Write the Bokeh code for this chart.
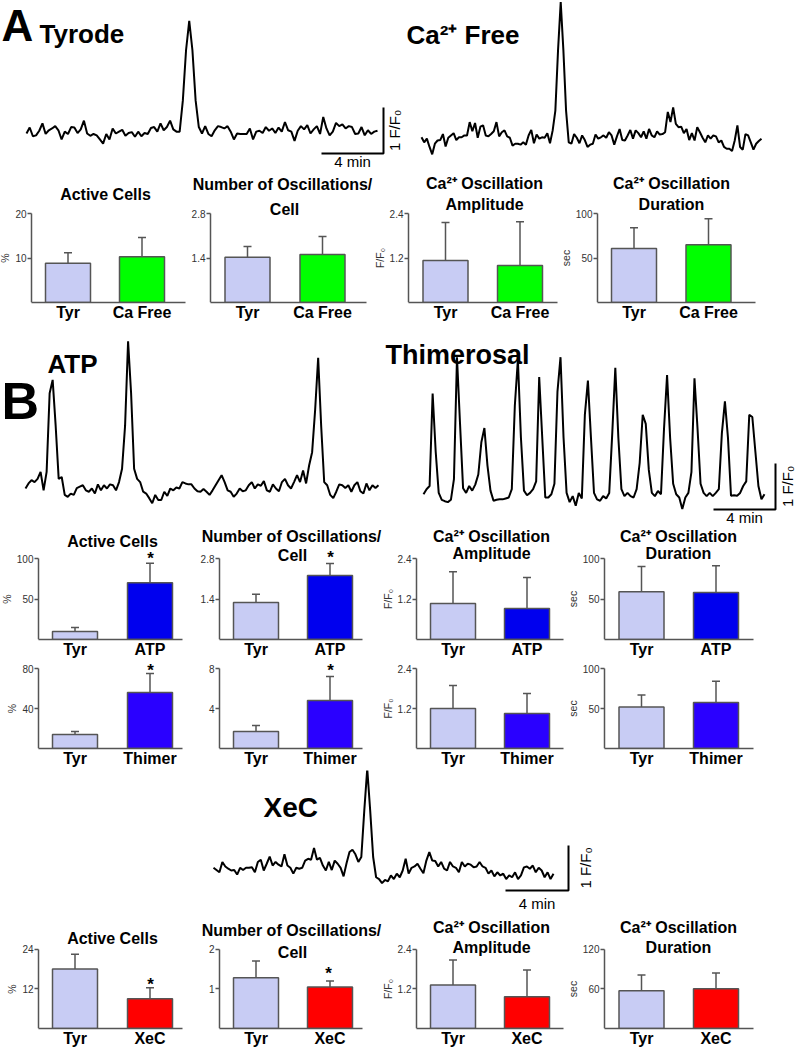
import numpy as np
from math import pi
from bokeh.plotting import figure
from bokeh.layouts import row, column
from bokeh.models import Range1d, Label, FixedTicker
from bokeh.embed import file_html
from bokeh.resources import INLINE

FONT = "Liberation Sans"
EDGE = "#555555"

# ---------------- Ca2+ traces (F/F0, uniformly sampled) ----------------
tyrode_trace = [1.00, 1.13, 0.94, 0.96, 1.06, 1.22, 0.99, 1.07, 1.11, 1.16,
                1.07, 0.87, 1.04, 0.99, 1.14, 1.13, 1.01, 1.09, 1.28, 1.00,
                0.95, 0.99, 0.96, 0.87, 0.78, 0.99, 0.87, 1.11, 1.00, 1.04,
                1.08, 0.95,
                1.01, 1.03, 0.93, 1.04, 0.94, 1.01, 0.99, 1.12, 1.14, 1.04,
                1.22, 1.07, 1.14, 1.28, 1.09, 1.04, 1.04, 1.72, 2.81, 3.45,
                2.81, 1.72, 1.14, 1.00, 1.16, 0.99, 0.94, 1.07, 1.16, 1.14,
                1.11, 1.16, 1.04, 0.87, 1.00, 0.99, 0.99, 0.99, 1.11, 0.87,
                1.04, 1.06, 1.01, 1.14, 1.06, 1.11, 1.01, 1.13, 1.04, 1.25,
                1.07, 1.04, 0.84, 1.06, 1.16, 1.09, 1.18, 1.00,
                1.09, 1.16, 0.99, 1.36, 1.11, 0.96, 1.04, 1.23, 1.16, 1.20,
                1.11, 1.16, 1.14, 0.99, 1.00, 1.14, 0.96, 1.07, 0.99, 1.04, 1.06]

cafree_trace = [1.07, 0.96, 1.04, 0.86, 0.70, 0.93, 1.00, 1.01, 1.14, 0.87,
                1.06, 1.11, 1.16, 1.01, 1.07, 1.07, 1.11, 1.11, 1.40, 1.20,
                1.38, 1.06, 1.30, 1.33, 1.11, 1.09, 1.14, 1.20, 1.40, 1.09,
                1.18, 1.22, 1.09, 1.06, 0.89, 0.93, 0.93, 0.91, 0.96, 0.91,
                1.11, 1.23, 0.94, 1.13, 1.04, 1.07, 1.06, 1.16, 0.94, 1.22,
                1.65, 2.96, 4.01, 2.96, 1.65, 0.96, 0.93, 1.14, 1.06, 0.94,
                1.11, 1.01, 0.86, 0.91, 0.93, 1.13, 1.04, 1.07, 1.11, 1.06,
                1.18, 1.11, 0.91, 1.09, 1.25, 1.01, 1.00, 1.11, 1.23, 1.04,
                1.22, 1.16, 1.07, 1.20, 1.04, 1.25, 1.11, 1.07, 1.20, 1.13,
                1.14, 1.18, 1.62, 1.40, 1.72, 1.36, 1.29, 1.30, 1.16, 1.25,
                1.01, 1.16, 1.00, 1.29, 1.18, 1.06, 0.96, 1.11, 1.04, 1.11,
                1.09, 0.96, 1.00, 0.86, 0.82, 0.82, 0.77, 1.00, 1.33, 0.86,
                0.80, 1.14, 1.11, 0.96, 0.80, 0.93, 0.99, 1.04]

atp_trace = [1.00, 1.11, 1.18, 1.14, 1.21, 1.36, 0.96, 1.36, 3.07, 3.36,
             2.36, 1.21, 1.25, 0.86, 0.82, 0.89, 0.86, 1.01, 1.04, 1.07,
             0.96, 0.93, 1.00, 0.89, 1.09, 0.96, 1.07, 1.00, 1.09, 1.07,
             0.96, 1.14, 1.43, 2.36, 4.20, 3.07, 1.43, 1.21, 1.14, 0.93,
             0.89, 0.79, 0.68, 0.86, 0.75, 0.75, 0.93, 0.84, 1.00, 0.96,
             1.02, 1.00, 1.14, 1.11, 1.09, 1.09, 1.00, 0.94, 0.93, 0.99,
             0.93, 0.86, 0.96, 1.07, 1.18, 1.29, 1.14, 0.96, 0.93, 0.82,
             0.89, 1.00, 0.94, 0.96, 1.07, 1.14, 1.00, 1.09, 1.06, 1.16,
             0.96, 0.93, 1.09, 1.00, 0.94, 1.14, 1.21, 1.07, 1.00, 1.14,
             1.29, 1.14, 1.39, 1.11, 1.50, 1.79, 2.71, 3.84, 2.36, 1.14,
             1.07, 0.86, 0.79, 0.93, 1.09, 1.07, 1.01, 1.07, 0.93, 1.07,
             1.14, 0.94, 0.89, 1.11, 0.96, 1.07, 1.01, 1.07]

thimerosal_trace = [1.07, 1.18, 1.25, 3.26, 2.00, 1.10, 0.95, 0.92, 0.90, 0.95,
                    1.40, 4.05, 2.60, 1.20, 1.10, 1.25, 1.15, 1.28, 1.50, 2.20,
                    2.51, 1.70, 1.15, 0.93, 0.95, 0.96, 0.96, 0.98, 1.00, 1.18,
                    3.00, 4.00, 2.30, 1.15, 1.05, 1.10, 1.18, 1.35, 3.62, 2.30,
                    1.00, 1.00, 1.07, 1.30, 3.30, 4.05, 2.30, 1.10, 0.90, 1.03,
                    0.82, 1.10, 0.98, 2.80, 3.54, 2.30, 1.10, 0.96, 0.93, 1.03,
                    0.98, 1.10, 2.40, 3.82, 2.30, 1.18, 1.03, 1.10, 1.03, 1.00,
                    1.18, 1.75, 2.80, 2.60, 1.60, 1.10, 1.03, 1.14, 1.07, 2.50,
                    3.66, 2.30, 1.30, 1.07, 1.00, 0.75, 1.00, 1.10, 1.55, 3.59,
                    2.50, 1.30, 1.10, 1.03, 1.10, 1.03, 1.10, 1.18, 2.40, 3.09,
                    2.30, 1.04, 1.05, 1.04, 1.10, 1.25, 1.35, 2.80, 2.75, 2.00,
                    1.25, 0.96, 1.07]

xec_trace = [1.06, 1.01, 0.96, 1.19, 1.09, 1.04, 1.00, 1.01, 0.91, 1.06,
             1.01, 1.06, 1.06, 1.07, 0.96, 1.19, 1.24, 1.00, 1.15, 1.31,
             1.11, 1.19, 1.13, 1.09, 1.36, 1.11, 1.06, 0.93, 1.06, 1.04,
             1.06, 1.22, 1.26, 1.24, 1.50, 1.24, 1.28, 1.11, 1.00, 1.19,
             1.01, 1.22, 1.15, 1.06, 0.87, 1.16, 1.41, 1.46, 1.36, 1.19,
             1.30, 2.33, 3.26, 2.33, 1.30, 0.85, 0.81, 0.72, 0.79, 0.76,
             0.89, 0.81, 0.93, 0.85, 1.00, 1.26, 0.93, 1.06, 1.09, 1.15,
             1.04, 0.94, 1.22, 1.41, 1.22, 1.21, 1.09, 1.19, 1.04, 1.00,
             1.19, 1.09, 1.06, 0.96, 1.19, 1.09, 1.15, 1.13, 1.07, 1.09,
             1.19, 1.09, 1.06, 0.93, 1.00, 0.87, 0.96, 0.89, 0.93, 0.81,
             0.89, 0.85, 0.96, 0.81, 0.89, 1.07, 1.09, 1.04, 1.11, 0.96,
             1.06, 1.00, 0.85, 0.96, 0.81, 0.93]

# ---------------- bar chart data (mean, SEM) ----------------
groups_a = ["Tyr", "Ca Free"]
groups_b1 = ["Tyr", "ATP"]
groups_b2 = ["Tyr", "Thimer"]
groups_c = ["Tyr", "XeC"]

tyr_color = "#c8ccf4"
cafree_color = "#00ff00"
atp_color = "#0000ee"
thimer_color = "#2a00ff"
xec_color = "#ff0000"

active_a = [8.8, 10.3];   active_a_sem = [2.4, 4.3]
number_a = [1.42, 1.51];  number_a_sem = [0.34, 0.57]
amp_a = [1.13, 1.00];     amp_a_sem = [1.03, 1.18]
dur_a = [60.7, 65.0];     dur_a_sem = [23.3, 29.0]

active_b1 = [9.9, 70.0];  active_b1_sem = [4.9, 24.0]
number_b1 = [1.28, 2.21]; number_b1_sem = [0.28, 0.42]
amp_b1 = [1.07, 0.92];    amp_b1_sem = [0.94, 0.92]
dur_b1 = [59.0, 58.0];    dur_b1_sem = [31.0, 33.0]

active_b2 = [14.0, 56.0]; active_b2_sem = [3.0, 19.0]
number_b2 = [1.7, 4.8];   number_b2_sem = [0.6, 2.4]
amp_b2 = [1.20, 1.05];    amp_b2_sem = [0.69, 0.60]
dur_b2 = [52.0, 57.5];    dur_b2_sem = [15.0, 26.5]

active_c = [18.0, 9.0];   active_c_sem = [4.5, 3.3]
number_c = [1.28, 1.05];  number_c_sem = [0.42, 0.15]
amp_c = [1.32, 0.96];     amp_c_sem = [0.75, 0.81]
dur_c = [57.0, 60.0];     dur_c_sem = [24.0, 24.0]

ticks_a = [(10, 20), (1.4, 2.8), (1.2, 2.4), (50, 100)]
ticks_b1 = [(50, 100), (1.4, 2.8), (1.2, 2.4), (50, 100)]
ticks_b2 = [(40, 80), (4, 8), (1.2, 2.4), (50, 100)]
ticks_c = [(12, 24), (1, 2), (1.2, 2.4), (60, 120)]
y_titles = ["%", None, "F/F\u2080", "sec"]

# ---------------- layout geometry (pixels) ----------------
ROW_A = (170, 337, 302, 213)      # top, bottom, zero line, top tick
ROW_B1 = (527, 662, 639, 558)
ROW_B2 = (662, 770, 748, 668)
ROW_C = (917, 1049, 1029, 949)
# figure left, figure right, y-axis, x-axis end, bar-1 centre, bar-2 centre
COLS_A = [(0, 188, 31, 185, 67.5, 141.5), (188, 373, 210, 366, 247, 322),
          (373, 560, 408, 557, 445, 519.5), (560, 797, 597, 755, 633.5, 708)]
COLS_B = [(0, 194, 38, 182, 74.5, 149.5), (194, 382, 219, 362, 255.5, 329.5),
          (382, 568, 416, 563, 452.5, 526.5), (568, 797, 604, 753, 641, 715.5)]
BAR_W = 45


def lab(p, x, y, text, size, bold=False, align="left", angle=0.0):
    # y is the visual centre of the text
    p.add_layout(Label(x=x, y=y, text=text, text_font=FONT, text_font_size=size,
                       text_font_style="bold" if bold else "normal", text_color="black",
                       text_align=align, text_baseline="middle", angle=angle))


def bar_panel(col, rg, groups, means, sems, colors, ticks, ytitle, titles, stars):
    fx0, fx1, ax, lx, c1, c2 = col
    top, bot, zero, maxpx = rg
    ppu = c2 - c1
    vpp = ticks[1] / (zero - maxpx)
    X = lambda px: 1 + (px - c1) / ppu
    Y = lambda py: (zero - py) * vpp
    p = figure(width=fx1 - fx0, height=bot - top, title=None, tools="", toolbar_location=None,
               output_backend="svg", x_range=Range1d(X(fx0), X(fx1)), y_range=Range1d(0, Y(top)),
               min_border_left=0, min_border_right=0, min_border_top=0,
               min_border_bottom=bot - zero)
    p.grid.visible = False
    p.outline_line_color = None
    xs = [1, 2]
    p.vbar(x=xs, top=means, bottom=0, width=BAR_W / ppu, fill_color=colors,
           line_color=EDGE, line_width=1.5)
    tops = [m + s for m, s in zip(means, sems)]
    cw = 4 / ppu
    p.segment(x0=xs, y0=means, x1=xs, y1=tops, line_color=EDGE, line_width=1.5)
    p.segment(x0=[x - cw for x in xs], y0=tops, x1=[x + cw for x in xs], y1=tops,
              line_color=EDGE, line_width=1.5)

    ya = p.yaxis[0]
    ya.fixed_location = X(ax)
    ya.ticker = FixedTicker(ticks=list(ticks))
    ya.bounds = (0, ticks[1])
    ya.axis_line_color = EDGE
    ya.axis_line_width = 1.5
    ya.major_tick_line_color = EDGE
    ya.major_tick_line_width = 1.5
    ya.major_tick_out = 4
    ya.major_tick_in = 0
    ya.minor_tick_line_color = None
    ya.major_label_text_font = FONT
    ya.major_label_text_font_size = "10px"
    ya.major_label_text_color = "#333333"
    ya.major_label_standoff = 1
    if ytitle:
        ya.axis_label = ytitle
        ya.axis_label_text_font = FONT
        ya.axis_label_text_font_size = "10.5px"
        ya.axis_label_text_font_style = "normal"
        ya.axis_label_text_color = "#333333"
        ya.axis_label_standoff = 1

    xa = p.xaxis[0]
    xa.ticker = FixedTicker(ticks=xs)
    xa.bounds = (X(ax), X(lx))
    xa.major_label_overrides = {1: groups[0], 2: groups[1]}
    xa.axis_line_color = EDGE
    xa.axis_line_width = 1.5
    xa.major_tick_line_color = None
    xa.minor_tick_line_color = None
    xa.major_tick_out = 0
    xa.major_tick_in = 0
    xa.major_label_text_font = FONT
    xa.major_label_text_font_size = "16px"
    xa.major_label_text_font_style = "bold"
    xa.major_label_text_color = "black"
    xa.major_label_standoff = 1

    for txt, cx, cy in titles:
        lab(p, X(cx), Y(cy), txt, "16px", bold=True, align="center")
    for sx, sy in stars:
        lab(p, X(sx), Y(sy + 4), "*", "17px", bold=True, align="center")
    return p


def trace_panel(x0, x1, y0, y1, t_left, t_right, base, ppf, ppm, trace):
    p = figure(width=x1 - x0, height=y1 - y0, title=None, tools="", toolbar_location=None,
               output_backend="svg", x_axis_location=None, y_axis_location=None, min_border=0,
               x_range=Range1d((x0 - t_left) / ppm, (x1 - t_left) / ppm),
               y_range=Range1d(1 + (base - y1) / ppf, 1 + (base - y0) / ppf))
    p.grid.visible = False
    p.outline_line_color = None
    n = len(trace)
    dt = (t_right - t_left) / ppm / (n - 1)
    t = np.arange(n) * dt
    p.line(t, trace, line_color="black", line_width=2)
    X = lambda px: (px - t_left) / ppm
    Y = lambda py: 1 + (base - py) / ppf
    return p, X, Y


def scale_bar(p, X, Y, cx, cy, min_cy, f_cx):
    bx, by = X(cx), Y(cy)
    p.line([bx - 4, bx, bx], [by, by, by + 1], line_color="black", line_width=2)
    lab(p, bx - 2, Y(min_cy), "4 min", "15px", align="center")
    lab(p, X(f_cx), by + 0.5, "1 F/F\u2080", "15px", align="center", angle=pi / 2)


# ---------------- A: traces ----------------
tyr_p, X, Y = trace_panel(0, 405, 0, 170, 26, 377, 133, 46, 15.5, tyrode_trace)
lab(tyr_p, X(1), Y(25), "A", "44px", bold=True)
lab(tyr_p, X(39), Y(33), "Tyrode", "26px", bold=True)
scale_bar(tyr_p, X, Y, 383, 153, 161, 394)

caf_p, X, Y = trace_panel(405, 797, 0, 170, 421, 761, 140, 46, 15.5, cafree_trace)
lab(caf_p, X(406), Y(34), "Ca\u00b2\u207a Free", "26px", bold=True)

# ---------------- A: bars ----------------
rowA = [
    bar_panel(COLS_A[0], ROW_A, groups_a, active_a, active_a_sem, [tyr_color, cafree_color],
              ticks_a[0], y_titles[0], [("Active Cells", 105, 194)], []),
    bar_panel(COLS_A[1], ROW_A, groups_a, number_a, number_a_sem, [tyr_color, cafree_color],
              ticks_a[1], y_titles[1], [("Number of Oscillations/", 282, 184), ("Cell", 284, 209)], []),
    bar_panel(COLS_A[2], ROW_A, groups_a, amp_a, amp_a_sem, [tyr_color, cafree_color],
              ticks_a[2], y_titles[2], [("Ca\u00b2\u207a Oscillation", 484, 183), ("Amplitude", 484, 204)], []),
    bar_panel(COLS_A[3], ROW_A, groups_a, dur_a, dur_a_sem, [tyr_color, cafree_color],
              ticks_a[3], y_titles[3], [("Ca\u00b2\u207a Oscillation", 671, 183), ("Duration", 671, 204)], []),
]

# ---------------- B: traces ----------------
atp_p, X, Y = trace_panel(0, 382, 337, 527, 25, 378, 488, 46, 15.5, atp_trace)
lab(atp_p, X(1), Y(400), "B", "52px", bold=True)
lab(atp_p, X(47), Y(363), "ATP", "26px", bold=True)

thim_p, X, Y = trace_panel(382, 797, 337, 527, 423, 764, 497, 46, 15.5, thimerosal_trace)
lab(thim_p, X(385), Y(354), "Thimerosal", "27px", bold=True)
scale_bar(thim_p, X, Y, 775, 509, 517, 787)

rowB1 = [
    bar_panel(COLS_B[0], ROW_B1, groups_b1, active_b1, active_b1_sem, [tyr_color, atp_color],
              ticks_b1[0], y_titles[0], [("Active Cells", 112, 541)], [(150, 554)]),
    bar_panel(COLS_B[1], ROW_B1, groups_b1, number_b1, number_b1_sem, [tyr_color, atp_color],
              ticks_b1[1], y_titles[1], [("Number of Oscillations/", 291, 536), ("Cell", 292, 555)],
              [(330, 553)]),
    bar_panel(COLS_B[2], ROW_B1, groups_b1, amp_b1, amp_b1_sem, [tyr_color, atp_color],
              ticks_b1[2], y_titles[2], [("Ca\u00b2\u207a Oscillation", 491, 536), ("Amplitude", 491, 553)], []),
    bar_panel(COLS_B[3], ROW_B1, groups_b1, dur_b1, dur_b1_sem, [tyr_color, atp_color],
              ticks_b1[3], y_titles[3], [("Ca\u00b2\u207a Oscillation", 678, 536), ("Duration", 678, 553)], []),
]

rowB2 = [
    bar_panel(COLS_B[0], ROW_B2, groups_b2, active_b2, active_b2_sem, [tyr_color, thimer_color],
              ticks_b2[0], y_titles[0], [], [(150, 666)]),
    bar_panel(COLS_B[1], ROW_B2, groups_b2, number_b2, number_b2_sem, [tyr_color, thimer_color],
              ticks_b2[1], y_titles[1], [], [(330, 666)]),
    bar_panel(COLS_B[2], ROW_B2, groups_b2, amp_b2, amp_b2_sem, [tyr_color, thimer_color],
              ticks_b2[2], y_titles[2], [], []),
    bar_panel(COLS_B[3], ROW_B2, groups_b2, dur_b2, dur_b2_sem, [tyr_color, thimer_color],
              ticks_b2[3], y_titles[3], [], []),
]

# ---------------- C: XeC ----------------
xec_p, X, Y = trace_panel(0, 797, 770, 917, 213, 553, 870, 45, 15.75, xec_trace)
lab(xec_p, X(263), Y(807), "XeC", "28px", bold=True)
scale_bar(xec_p, X, Y, 568, 890, 903, 585)

rowC = [
    bar_panel(COLS_B[0], ROW_C, groups_c, active_c, active_c_sem, [tyr_color, xec_color],
              ticks_c[0], y_titles[0], [("Active Cells", 112, 938)], [(150, 981)]),
    bar_panel(COLS_B[1], ROW_C, groups_c, number_c, number_c_sem, [tyr_color, xec_color],
              ticks_c[1], y_titles[1], [("Number of Oscillations/", 291, 930), ("Cell", 292, 952)],
              [(328, 970)]),
    bar_panel(COLS_B[2], ROW_C, groups_c, amp_c, amp_c_sem, [tyr_color, xec_color],
              ticks_c[2], y_titles[2], [("Ca\u00b2\u207a Oscillation", 491, 927), ("Amplitude", 491, 947)], []),
    bar_panel(COLS_B[3], ROW_C, groups_c, dur_c, dur_c_sem, [tyr_color, xec_color],
              ticks_c[3], y_titles[3], [("Ca\u00b2\u207a Oscillation", 678, 927), ("Duration", 678, 947)], []),
]

layout = column(
    row(tyr_p, caf_p),
    row(*rowA),
    row(atp_p, thim_p),
    row(*rowB1),
    row(*rowB2),
    xec_p,
    row(*rowC),
)

open("out.html", "w").write(file_html(layout, INLINE, title="Ca2+ oscillations"))
